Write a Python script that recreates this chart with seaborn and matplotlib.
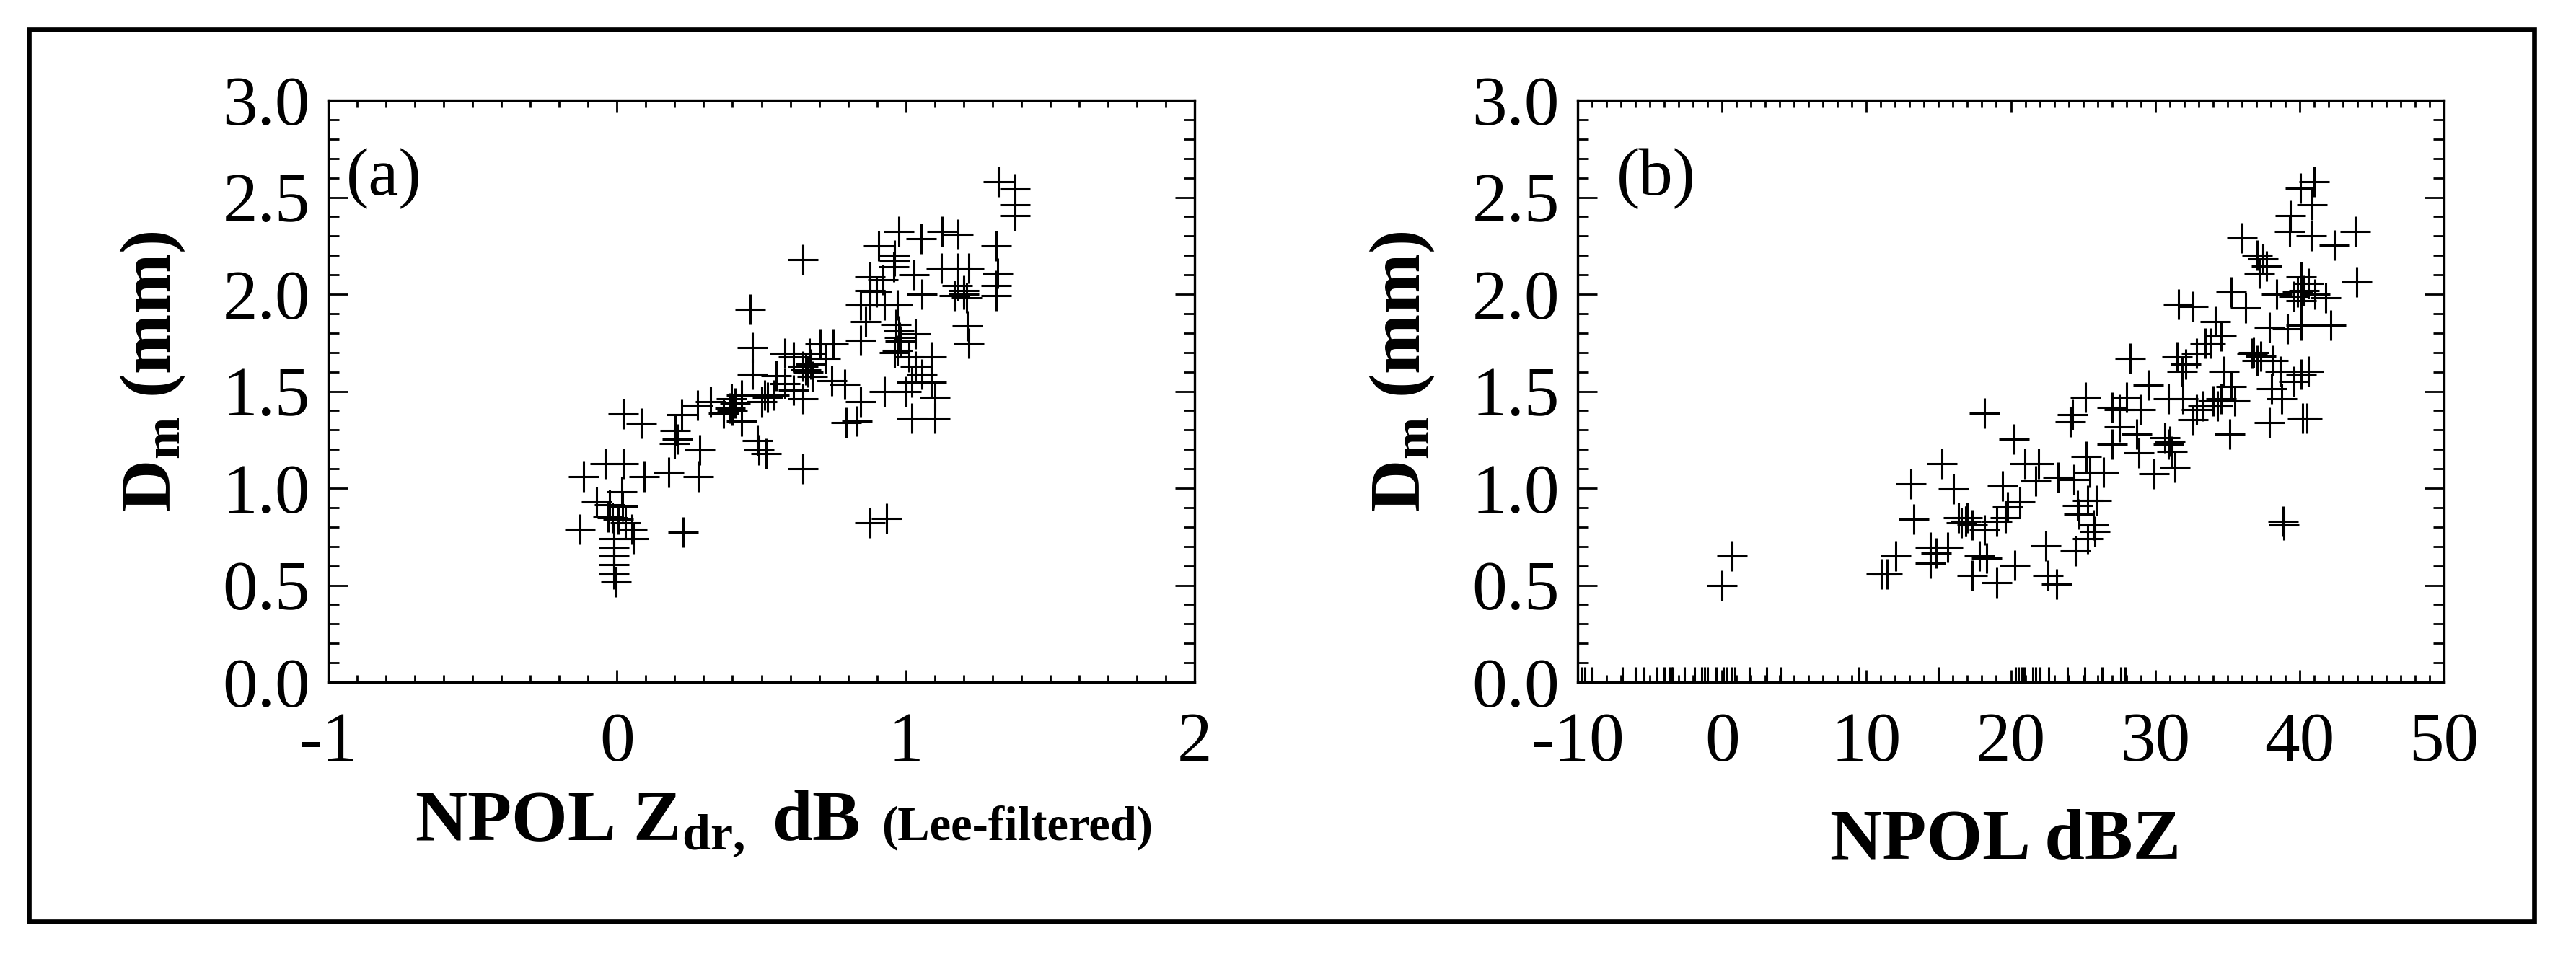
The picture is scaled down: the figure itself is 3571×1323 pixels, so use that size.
import matplotlib
matplotlib.use("Agg")
import matplotlib.pyplot as plt
import seaborn as sns
import pandas as pd
from matplotlib.ticker import MultipleLocator, FixedLocator
from matplotlib.patches import Rectangle

# ---------------- data ----------------
# Panel (a): NPOL Zdr (dB, Lee-filtered) vs Dm (mm)
zdr_a = [1.321, 1.377, 1.377, 1.377, 0.975, 1.053, 1.125, 1.180, 0.905, 0.960,
         0.962, 0.958, 1.312, 1.122, 1.178, 1.217, 1.318, 0.877, 0.922, 1.028,
         1.178, 1.200, 1.312, 1.312, 0.877, 0.899, 1.056, 1.167, 0.844, 0.877,
         0.927, 0.972, 1.212, 1.217, 0.861, 0.966, 0.975, 0.978, 1.033, 0.844,
         0.972, 1.011, 1.089, 1.033, 1.056, 1.022, 1.089, 0.927, 1.000, 1.100,
         1.022, 1.100, 0.793, 0.844, 0.832, 0.788, 0.743, 0.877, 0.933, 0.462,
         0.468, 0.470, 0.582, 0.610, 0.643, 0.654, 0.665, 0.704, 0.749, 0.676,
         0.610, 0.643, 0.511, 0.500, 0.431, 0.397, 0.392, 0.370, 0.325, 0.280,
         0.225, 0.202, 0.200, 0.208, 0.286, 0.487, 0.492, 0.515, 0.643, 0.431,
         0.022, 0.085, -0.040, 0.022, -0.115, 0.094, 0.180, 0.281, 0.016, -0.071,
         -0.026, 0.019, -0.015, -0.030, 0.005, 0.030, -0.127, 0.052, 0.057, -0.010,
         -0.010, -0.010, -0.010, -0.010, -0.004, 0.230, 0.643, 0.410, 0.400, 0.660,
         0.670, 0.980, 0.960, 1.200, 1.210, 0.520, 0.550, 0.720, 0.580, 0.543]
dm_a = [2.579, 2.544, 2.461, 2.405, 2.322, 2.287, 2.322, 2.308, 2.250, 2.200,
        2.170, 2.140, 2.250, 2.134, 2.134, 2.134, 2.109, 2.089, 2.076, 2.101,
        2.043, 2.018, 2.043, 1.993, 2.018, 2.010, 2.001, 1.993, 1.943, 1.943,
        1.943, 1.943, 1.836, 1.747, 1.860, 1.844, 1.810, 1.777, 1.794, 1.761,
        1.711, 1.678, 1.678, 1.628, 1.587, 1.545, 1.545, 1.498, 1.498, 1.467,
        1.362, 1.362, 1.338, 1.445, 1.346, 1.537, 1.553, 0.823, 0.845, 1.923,
        1.724, 1.587, 1.694, 1.678, 1.628, 1.611, 1.694, 1.744, 1.744, 1.578,
        1.504, 1.462, 1.479, 1.445, 1.479, 1.462, 1.412, 1.387, 1.445, 1.429,
        1.379, 1.296, 1.230, 1.254, 1.197, 1.246, 1.197, 1.180, 1.102, 1.346,
        1.382, 1.333, 1.125, 1.125, 1.059, 1.059, 1.080, 1.059, 0.981, 0.931,
        0.914, 0.906, 0.848, 0.850, 0.840, 0.823, 0.787, 0.787, 0.740, 0.740,
        0.690, 0.649, 0.607, 0.558, 0.516, 0.773, 2.180, 1.440, 1.400, 1.600,
        1.640, 1.760, 1.700, 2.000, 1.980, 1.470, 1.580, 1.670, 1.540, 1.479]

# Panel (b): NPOL dBZ vs Dm (mm)
dbz_b = [41.0, 40.04, 40.84, 39.38, 39.33, 40.8, 43.86, 42.41, 36.0, 37.08,
         37.45, 37.69, 37.2, 43.98, 40.11, 40.59, 39.87, 41.08, 40.11, 35.27,
         36.24, 38.41, 41.8, 31.63, 32.6, 42.17, 40.11, 39.14, 37.93, 34.18,
         34.54, 33.45, 36.72, 37.08, 38.17, 38.66, 40.11, 40.59, 39.62, 38.05,
         38.78, 31.51, 32.12, 31.88, 32.84, 33.81, 34.78, 34.54, 34.3, 33.33,
         32.84, 32.6, 35.27, 35.14, 37.93, 40.23, 40.5, 30.91, 31.9, 28.25,
         29.5, 28.0, 27.52, 27.03, 28.97, 25.17, 24.25, 24.13, 27.52, 28.73,
         27.03, 30.67, 30.91, 31.15, 31.39, 29.94, 28.85, 18.2, 20.2, 15.22,
         21.9, 20.98, 13.06, 16.02, 19.45, 21.71, 23.28, 24.37, 25.22, 25.46,
         26.43, 25.34, 25.94, 24.61, 24.73, 25.7, 25.82, 25.34, 24.49, 20.62,
         19.77, 19.65, 19.04, 16.86, 17.0, 16.38, 17.35, 18.2, 13.28, 14.44,
         14.81, 14.44, 15.65, 12.02, 11.05, 11.42, 17.83, 18.32, 17.35, 19.04,
         20.25, 22.43, 22.55, 23.16, 38.85, 38.9, 0.0, 0.7, 36.8, 37.3,
         40.3, 39.6, 31.0, 34.0, 35.5, 16.9, 16.6,
         -9.7, -9.5, -9.0, -6.9, -6.0, -5.4, -4.5, -4.0, -3.6, -3.5,
         -3.4, -2.6, -1.9, -1.4, -1.2, -1.0, -0.4, 0.1, 0.3, 0.7,
         0.9, 1.9, 3.1, 4.1, 9.5, 15.0, 20.3, 20.5, 20.7, 20.9,
         21.5, 21.7, 22.0, 22.6, 23.9, 25.1, 26.3, 27.6, 27.9]
dm_b = [2.581, 2.545, 2.461, 2.406, 2.322, 2.300, 2.322, 2.253, 2.289, 2.199,
        2.181, 2.145, 2.109, 2.064, 2.091, 2.055, 2.010, 2.001, 1.965, 2.010,
        1.929, 2.001, 1.983, 1.947, 1.938, 1.839, 1.839, 1.821, 1.830, 1.857,
        1.785, 1.749, 1.695, 1.659, 1.659, 1.604, 1.586, 1.604, 1.551, 1.514,
        1.460, 1.677, 1.641, 1.604, 1.695, 1.749, 1.604, 1.460, 1.424, 1.424,
        1.406, 1.352, 1.523, 1.280, 1.338, 1.361, 1.361, 1.460, 1.460, 1.668,
        1.532, 1.469, 1.406, 1.415, 1.406, 1.469, 1.379, 1.343, 1.316, 1.280,
        1.226, 1.262, 1.226, 1.190, 1.109, 1.073, 1.181, 1.385, 1.253, 1.127,
        1.127, 1.127, 1.022, 0.997, 1.010, 1.037, 1.055, 1.046, 1.163, 1.082,
        1.082, 0.938, 0.938, 0.911, 0.866, 0.812, 0.776, 0.740, 0.676, 0.929,
        0.902, 0.848, 0.830, 0.830, 0.848, 0.848, 0.812, 0.785, 0.839, 0.694,
        0.667, 0.613, 0.694, 0.649, 0.559, 0.559, 0.649, 0.640, 0.550, 0.514,
        0.604, 0.703, 0.550, 0.505, 0.830, 0.810, 0.500, 0.650, 1.700, 1.680,
        2.020, 1.990, 1.240, 1.450, 1.450, 0.830, 0.820,
        0.0, 0.0, 0.0, 0.0, 0.0, 0.0, 0.0, 0.0, 0.0, 0.0,
        0.0, 0.0, 0.0, 0.0, 0.0, 0.0, 0.0, 0.0, 0.0, 0.0,
        0.0, 0.0, 0.0, 0.0, 0.0, 0.0, 0.0, 0.0, 0.0, 0.0,
        0.0, 0.0, 0.0, 0.0, 0.0, 0.0, 0.0, 0.0, 0.0]

y_ticks = [0.0, 0.5, 1.0, 1.5, 2.0, 2.5, 3.0]
y_tick_labels = ["0.0", "0.5", "1.0", "1.5", "2.0", "2.5", "3.0"]
xa_ticks = [-1, 0, 1, 2]
xa_tick_labels = ["-1", "0", "1", "2"]
xb_ticks = [-10, 0, 10, 20, 30, 40, 50]
xb_tick_labels = ["-10", "0", "10", "20", "30", "40", "50"]

df_a = pd.DataFrame({"zdr": zdr_a, "dm": dm_a})
df_b = pd.DataFrame({"dbz": dbz_b, "dm": dm_b})

# ---------------- style ----------------
sns.set_theme(style="white")
plt.rcParams["font.family"] = ["Liberation Serif", "DejaVu Serif"]
plt.rcParams["mathtext.fontset"] = "custom"
plt.rcParams["mathtext.rm"] = "Liberation Serif"
plt.rcParams["mathtext.bf"] = "Liberation Serif:bold"
plt.rcParams["mathtext.it"] = "Liberation Serif:italic"

W, H = 3571, 1323
fig = plt.figure(figsize=(W / 100, H / 100), dpi=100)
fig.patch.set_facecolor("white")

ax_a = fig.add_axes([455 / W, 1 - 946 / H, 1201 / W, 807 / H])
ax_b = fig.add_axes([2187 / W, 1 - 946 / H, 1201 / W, 807 / H])

sns.scatterplot(data=df_a, x="zdr", y="dm", ax=ax_a, marker="+", s=900,
                color="black", linewidth=2.2, legend=False)
sns.scatterplot(data=df_b, x="dbz", y="dm", ax=ax_b, marker="+", s=900,
                color="black", linewidth=2.2, legend=False)


def style_axes(ax, xlim, xticks, xlabels, xminor):
    ax.set_xlim(*xlim)
    ax.set_ylim(0, 3)
    ax.xaxis.set_major_locator(FixedLocator(xticks))
    ax.set_xticklabels(xlabels)
    ax.xaxis.set_minor_locator(MultipleLocator(xminor))
    ax.yaxis.set_major_locator(FixedLocator(y_ticks))
    ax.set_yticklabels(y_tick_labels)
    ax.yaxis.set_minor_locator(MultipleLocator(0.1))
    for sp in ax.spines.values():
        sp.set_color("black")
        sp.set_linewidth(2.4)
        sp.set_visible(True)
    ax.tick_params(which="both", direction="in", top=True, right=True,
                   bottom=True, left=True, color="black", width=2,
                   labelcolor="black", labelsize=70)
    ax.tick_params(axis="y", which="major", length=19.5, pad=18)
    ax.tick_params(axis="y", which="minor", length=11)
    ax.tick_params(axis="x", which="major", length=12.5, pad=30)
    ax.tick_params(axis="x", which="minor", length=7.5)
    ax.set_facecolor("white")
    ax.grid(False)


style_axes(ax_a, (-1, 2), xa_ticks, xa_tick_labels, 0.1)
style_axes(ax_b, (-10, 50), xb_ticks, xb_tick_labels, 1)

for ax in (ax_a, ax_b):
    ax.set_ylabel(r"D$_{\mathbf{m}}$ (mm)", fontsize=72, fontweight="bold",
                  color="black", va="center")
    ax.yaxis.set_label_coords(-0.2023, 0.534)

xl = ax_a.set_xlabel(r"NPOL Z$_{\mathbf{dr,}}$ dB", fontsize=72,
                     fontweight="bold", color="black", ha="left", va="baseline")
ax_a.xaxis.set_label_coords(0.0999, -0.271)
ax_a.annotate("(Lee-filtered)", xy=(1.0, -0.271), xycoords=(xl, ax_a.transAxes),
              xytext=(22, 0), textcoords="offset points", fontsize=48,
              fontweight="bold", ha="left", va="baseline", color="black",
              annotation_clip=False)

ax_b.set_xlabel("NPOL dBZ", fontsize=72, fontweight="bold", color="black",
                va="baseline")
ax_b.xaxis.set_label_coords(0.494, -0.302)

ax_a.text(0.021, 0.866, "(a)", transform=ax_a.transAxes, fontsize=68,
          ha="left", va="center", color="black")
ax_b.text(0.045, 0.866, "(b)", transform=ax_b.transAxes, fontsize=68,
          ha="left", va="center", color="black")

fig.add_artist(Rectangle((40 / W, 1 - 1278 / H), (3513 - 40) / W, (1278 - 40.5) / H,
                         transform=fig.transFigure, fill=False, lw=4.8,
                         edgecolor="black"))

fig.savefig("out.png", dpi=100, facecolor="white")
